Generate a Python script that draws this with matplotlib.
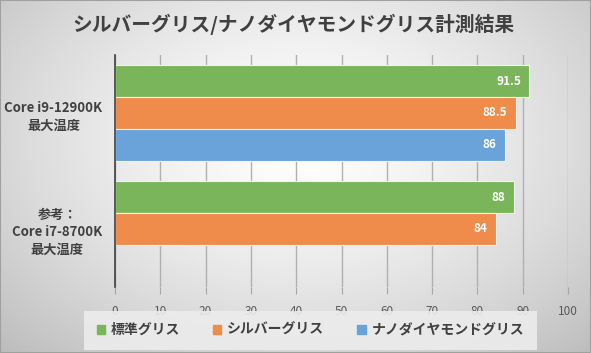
import numpy as np
import matplotlib
matplotlib.use('Agg')
import matplotlib.pyplot as plt

plt.rcParams['font.family'] = ['Noto Sans CJK JP', 'DejaVu Sans']

title = 'シルバーグリス/ナノダイヤモンドグリス計測結果'
categories = ['Core i9-12900K\n最大温度', '参考：\nCore i7-8700K\n最大温度']
series_names = ['標準グリス', 'シルバーグリス', 'ナノダイヤモンドグリス']
standard = [91.5, 88]
silver = [88.5, 84]
nano = [86, None]
colors = ['#7AB55C', '#EF8B4B', '#6AA3D9']
xticks = [0, 10, 20, 30, 40, 50, 60, 70, 80, 90, 100]

fig = plt.figure(figsize=(5.91, 3.53), dpi=100)

# radial grey background
bg = fig.add_axes([0, 0, 1, 1], zorder=-10)
yy, xx = np.mgrid[0:353, 0:591]
r = np.sqrt(((xx - 300) / 380.0) ** 2 + ((yy - 140) / 260.0) ** 2)
shade = np.clip(1.0 - 0.22 * r ** 1.4, 0, 1)
bg.imshow(np.dstack([shade] * 3), aspect='auto', extent=[0, 1, 0, 1])
bg.plot([0, 1, 1, 0, 0], [0, 0, 1, 1, 0], color='#a0a0a0', lw=1.5,
        transform=bg.transAxes, clip_on=False)
bg.set_xlim(0, 1)
bg.set_ylim(0, 1)
bg.axis('off')

ax = fig.add_axes([115 / 591, 1 - 287 / 353, 453 / 591, 232 / 353])
ax.patch.set_alpha(0)

h = 0.273
all_series = [standard, silver, nano]
for k, vals in enumerate(all_series):
    for i, v in enumerate(vals):
        if v is None:
            continue
        y = i + (k - 1) * h
        ax.barh(y, v, height=h, color=colors[k], edgecolor='#f2f2f2',
                linewidth=0.8, zorder=3)
        lab = ('%g' % v)
        ax.annotate(lab, (v, y), xytext=(-6, 0), textcoords='offset points',
                    ha='right', va='center', color='white', fontsize=8.5,
                    fontweight='bold', zorder=4)

ax.set_xlim(0, 100)
ax.set_ylim(1.5, -0.5)
ax.set_xticks(xticks)
ax.set_yticks(range(len(categories)))
ax.set_yticklabels(categories, fontsize=9.5, color='#404040', fontweight='bold',
                   linespacing=1.35)
for t in ax.get_yticklabels():
    t.set_multialignment('center')
ax.tick_params(axis='y', length=0, pad=9)
ax.tick_params(axis='x', length=5, color='#a6a6a6', labelcolor='#595959',
               labelsize=8.5, pad=8, direction='out')
ax.grid(axis='x', color='#b0b0b0', lw=1, zorder=1)
for s in ['top', 'right', 'bottom']:
    ax.spines[s].set_visible(False)
ax.spines['left'].set_color('#404040')
ax.spines['left'].set_linewidth(1.2)
ax.spines['left'].set_zorder(5)

fig.text(0.497, 1 - 24 / 353, title, ha='center', va='center', fontsize=14.2,
         fontweight='bold', color='#404040')

handles = [plt.Rectangle((0, 0), 1, 1, color=c) for c in colors]
leg = fig.legend(handles, series_names, loc='center', ncol=3,
                 bbox_to_anchor=(0.525, 1 - 330 / 353), frameon=True,
                 handlelength=0.6, handleheight=0.6,
                 columnspacing=2.4, handletextpad=0.4, borderpad=0.6,
                 prop={'weight': 'bold', 'size': 10})
leg.get_frame().set_facecolor('#ececec')
leg.get_frame().set_edgecolor('none')
leg.get_frame().set_boxstyle('square')
leg.get_frame().set_alpha(0.9)
for t in leg.get_texts():
    t.set_color('#404040')

fig.savefig('out.png', dpi=100)
